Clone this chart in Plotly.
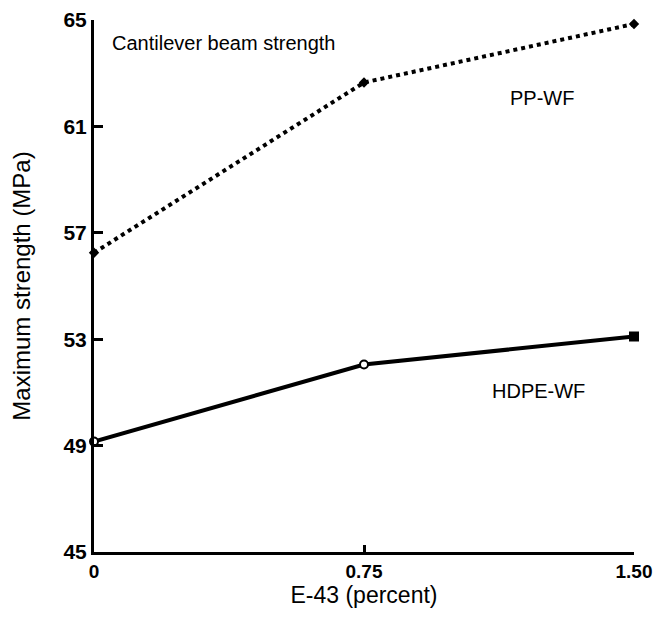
import plotly.graph_objects as go

x_vals = [0, 0.75, 1.50]
x_tick_labels = ["0", "0.75", "1.50"]
pp_wf = [56.25, 62.65, 64.85]
hdpe_wf = [49.15, 52.05, 53.1]
y_ticks = [45, 49, 53, 57, 61, 65]

FONT = "Liberation Sans, Arial, sans-serif"

fig = go.Figure()
fig.add_trace(go.Scatter(
    x=x_vals, y=pp_wf, mode="lines+markers", name="PP-WF",
    line=dict(color="black", width=4, dash="dot"),
    marker=dict(symbol="diamond", size=8, color="black"),
    cliponaxis=False,
))
fig.add_trace(go.Scatter(
    x=x_vals, y=hdpe_wf, mode="lines+markers", name="HDPE-WF",
    line=dict(color="black", width=4),
    marker=dict(symbol=["circle", "circle", "square"], size=8,
                color=["white", "white", "black"],
                line=dict(color="black", width=2)),
    cliponaxis=False,
))

fig.add_annotation(x=0.045, y=64.15, xref="x", yref="y", text="Cantilever beam strength",
                   showarrow=False, xanchor="left", font=dict(family=FONT, size=20, color="black"))
fig.add_annotation(x=1.245, y=62.05, xref="x", yref="y", text="PP-WF",
                   showarrow=False, font=dict(family=FONT, size=20, color="black"))
fig.add_annotation(x=1.235, y=51.05, xref="x", yref="y", text="HDPE-WF",
                   showarrow=False, font=dict(family=FONT, size=20, color="black"))

# figure sized so that, with the page's 8px body offset, it fits in the window
fig.update_layout(
    width=655, height=609,
    margin=dict(l=86, r=29, t=12, b=65),
    paper_bgcolor="white", plot_bgcolor="white",
    showlegend=False,
    font=dict(family=FONT, size=20, color="black"),
)
fig.update_xaxes(
    range=[0, 1.5], tickvals=x_vals, ticktext=x_tick_labels, automargin=False,
    showgrid=False, zeroline=False, showline=True, linecolor="black", linewidth=3,
    ticks="inside", ticklen=7, tickwidth=2.5, tickcolor="black",
    tickfont=dict(family=FONT, size=19, color="black", weight="bold"),
    title=dict(text="E-43 (percent)", font=dict(family=FONT, size=23, color="black"), standoff=4),
)
fig.update_yaxes(
    range=[45, 65], tickvals=y_ticks, automargin=False,
    showgrid=False, zeroline=False, showline=True, linecolor="black", linewidth=3,
    ticks="inside", ticklen=9, tickwidth=2.5, tickcolor="black",
    tickfont=dict(family=FONT, size=21, color="black", weight="bold"),
    title=dict(text="Maximum strength (MPa)", font=dict(family=FONT, size=24, color="black"), standoff=30),
)

fig.write_html("out.html")
